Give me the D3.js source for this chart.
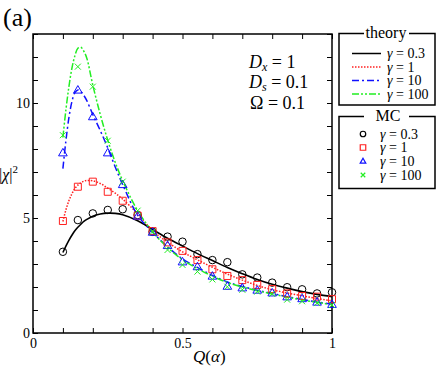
<!DOCTYPE html>
<meta charset="utf-8">
<style>
  body { margin: 0; background: #fff; }
  svg text { font-family: "Liberation Serif", "Times New Roman", Times, "DejaVu Serif", serif; }
</style>
<script src="https://d3js.org/d3.v7.min.js"></script>
<div id="chart"></div>
<script>
// theory curves
var qTheory = [0.1, 0.11, 0.12, 0.13, 0.14, 0.15, 0.16, 0.17, 0.18, 0.2, 0.225, 0.25, 0.275, 0.3,
               0.35, 0.4, 0.45, 0.5, 0.55, 0.6, 0.65, 0.7, 0.75, 0.8, 0.85, 0.9, 0.95, 1.0];
var th03  = [3.5, 3.78, 4.03, 4.25, 4.45, 4.6, 4.73, 4.85, 4.94, 5.08, 5.17, 5.21, 5.2, 5.14,
             4.88, 4.5, 4.12, 3.78, 3.45, 3.15, 2.85, 2.58, 2.33, 2.12, 1.95, 1.8, 1.68, 1.58];
var th1   = [4.85, 5.35, 5.75, 6.05, 6.28, 6.43, 6.53, 6.6, 6.63, 6.62, 6.5, 6.3, 6.08, 5.82,
             5.18, 4.45, 3.95, 3.53, 3.18, 2.86, 2.56, 2.3, 2.07, 1.88, 1.74, 1.62, 1.5, 1.4];
var th10  = [7.15, 8.35, 9.35, 10.05, 10.45, 10.57, 10.5, 10.33, 10.1, 9.5, 8.8, 8.05, 7.22, 6.45,
             5.12, 4.38, 3.75, 3.22, 2.85, 2.5, 2.22, 2.02, 1.86, 1.72, 1.58, 1.46, 1.35, 1.25];
var th100 = [8.5, 9.7, 10.7, 11.5, 12.05, 12.38, 12.42, 12.25, 11.95, 10.78, 9.5, 8.38, 7.42, 6.62,
             5.32, 4.4, 3.72, 3.18, 2.8, 2.47, 2.2, 2.0, 1.84, 1.7, 1.56, 1.44, 1.33, 1.23];

// Monte Carlo points
var qMC   = [0.1, 0.15, 0.2, 0.25, 0.3, 0.35, 0.4, 0.45, 0.5, 0.55, 0.6, 0.65, 0.7, 0.75, 0.8, 0.85, 0.9, 0.95, 1.0];
var mc03  = [3.53, 4.91, 5.2, 5.35, 5.38, 5.13, 4.4, 4.19, 3.97, 3.43, 3.17, 3.08, 2.55, 2.41, 2.19, 1.99, 1.9, 1.72, 1.77];
var mc1   = [4.87, 6.36, 6.58, 6.14, 5.75, 5.1, 4.43, 3.94, 3.57, 3.17, 2.77, 2.48, 2.3, 2.09, 1.91, 1.72, 1.61, 1.58, 1.47];
var mc10  = [7.81, 10.54, 9.38, 7.81, 6.43, 5.06, 4.36, 3.78, 3.07, 2.86, 2.45, 2.01, 1.94, 1.84, 1.72, 1.55, 1.47, 1.32, 1.22];
var mc100 = [8.6, 11.58, 10.71, 8.36, 6.58, 5.32, 4.4, 3.61, 2.96, 2.67, 2.33, 2.01, 1.88, 1.8, 1.7, 1.45, 1.38, 1.3, 1.22];

var gammaLabels = ["0.3", "1", "10", "100"];
var xTickLabels = ["0", "0.5", "1"];
var yTickLabels = ["0", "5", "10"];

var colors = ["#000000", "#ff2020", "#1010ff", "#22ee22"];
var dashes = [null, "1.5,1.5", "7,3,2,3", "7,2,2,2,2,2"];
var serif = '"Liberation Serif", "Times New Roman", Times, "DejaVu Serif", serif';

var width = 436, height = 368;
var svg = d3.select("#chart").append("svg")
    .attr("width", width)
    .attr("height", height)
    .attr("font-family", serif);

var x = d3.scaleLinear().domain([0, 1]).range([33, 332]);
var y = d3.scaleLinear().domain([0, 13]).range([333, 34]);

var xticks = d3.range(0, 11).map(function(i) { return i / 10; });
var yticks = d3.range(0, 14);

function xfmt(d) {
  var s = String(+d.toFixed(2));
  return xTickLabels.indexOf(s) >= 0 ? s : "";
}
function yfmt(d) {
  var s = String(d);
  return yTickLabels.indexOf(s) >= 0 ? s : "";
}

// axes, ticks pointing inward
svg.append("g").attr("transform", "translate(0,333)")
  .call(d3.axisBottom(x).tickValues(xticks).tickSize(-5).tickPadding(5).tickFormat(xfmt));
svg.append("g").attr("transform", "translate(0,34)")
  .call(d3.axisTop(x).tickValues(xticks).tickSize(-5).tickFormat(""));
svg.append("g").attr("transform", "translate(33,0)")
  .call(d3.axisLeft(y).tickValues(yticks).tickSize(-5).tickPadding(3).tickFormat(yfmt));
svg.append("g").attr("transform", "translate(332,0)")
  .call(d3.axisRight(y).tickValues(yticks).tickSize(-5).tickFormat(""));

svg.selectAll("g").attr("font-family", serif);
svg.selectAll(".domain").remove();
svg.selectAll(".tick line").attr("stroke", "#000").attr("stroke-width", 1);
svg.selectAll(".tick text")
  .attr("fill", "#000")
  .attr("font-size", 14);

// frame
svg.append("rect")
  .attr("x", x(0)).attr("y", y(13))
  .attr("width", x(1) - x(0)).attr("height", y(0) - y(13))
  .attr("fill", "none").attr("stroke", "#000").attr("stroke-width", 1.5);

// theory curves
var theory = [th03, th1, th10, th100];
var line = d3.line()
  .x(function(d) { return x(d[0]); })
  .y(function(d) { return y(d[1]); })
  .curve(d3.curveCatmullRom.alpha(0.5));

theory.forEach(function(vals, i) {
  svg.append("path")
    .datum(qTheory.map(function(q, j) { return [q, vals[j]]; }))
    .attr("d", line)
    .attr("fill", "none")
    .attr("stroke", colors[i])
    .attr("stroke-width", i == 0 ? 1.6 : 1.5)
    .attr("stroke-dasharray", dashes[i]);
});

// MC markers
function marker(kind, s) {
  if (kind == 0) return d3.symbol(d3.symbolCircle, Math.PI * s * s * 0.25)();
  if (kind == 1) return d3.symbol(d3.symbolSquare, s * s)();
  if (kind == 2) return d3.symbol(d3.symbolTriangle, s * s * 0.45)();
  var h = s / 2;
  return "M" + (-h) + "," + (-h) + "L" + h + "," + h + "M" + (-h) + "," + h + "L" + h + "," + (-h);
}
var mcSeries = [mc03, mc1, mc10, mc100];
var mcSize = [7.5, 7, 8.5, 6];

mcSeries.forEach(function(vals, i) {
  svg.append("g").selectAll("path")
    .data(qMC.map(function(q, j) { return [q, vals[j]]; }))
    .join("path")
      .attr("transform", function(d) { return "translate(" + x(d[0]) + "," + y(d[1]) + ")"; })
      .attr("d", marker(i, mcSize[i]))
      .attr("fill", "none")
      .attr("stroke", colors[i])
      .attr("stroke-width", 1);
});

// axis labels
svg.append("text")
  .attr("x", 193).attr("y", 362)
  .attr("font-size", 17)
  .html('<tspan font-style="italic">Q</tspan>(<tspan font-style="italic">α</tspan>)');

svg.append("text")
  .attr("x", -1).attr("y", 180)
  .attr("font-size", 16)
  .html('|<tspan font-style="italic">χ</tspan>|<tspan dy="-7" font-size="11">2</tspan>');

svg.append("text")
  .attr("x", 3).attr("y", 26)
  .attr("font-size", 26)
  .text("(a)");

// parameter annotation
var params = [
  ['<tspan font-style="italic">D</tspan><tspan font-style="italic" font-size="12" dy="3">x</tspan><tspan dy="-3"> = 1</tspan>', 249, 68],
  ['<tspan font-style="italic">D</tspan><tspan font-style="italic" font-size="12" dy="3">s</tspan><tspan dy="-3"> = 0.1</tspan>', 249, 88],
  ['Ω = 0.1', 250, 109]
];
params.forEach(function(p) {
  svg.append("text")
    .attr("x", p[1]).attr("y", p[2])
    .attr("font-size", 18)
    .attr("xml:space", "preserve")
    .html(p[0]);
});

// legend boxes
function legendBox(title, top, bottom, tx, ty) {
  svg.append("rect")
    .attr("x", 339).attr("y", top)
    .attr("width", 96).attr("height", bottom - top)
    .attr("fill", "#fff").attr("stroke", "#000").attr("stroke-width", 1.5);
  svg.append("rect")
    .attr("x", 364).attr("y", top - 2)
    .attr("width", 45).attr("height", 4)
    .attr("fill", "#fff");
  svg.append("text")
    .attr("x", tx).attr("y", ty)
    .attr("text-anchor", "middle")
    .attr("font-size", 16)
    .text(title);
}
legendBox("theory", 33.5, 105, 386, 38);
legendBox("MC", 116.5, 188.5, 388, 121);

var thRows = [53.5, 67, 80.5, 94];
var mcRows = [134, 147.5, 161.5, 175];

gammaLabels.forEach(function(g, i) {
  svg.append("line")
    .attr("x1", 352).attr("x2", 381)
    .attr("y1", thRows[i]).attr("y2", thRows[i])
    .attr("stroke", colors[i])
    .attr("stroke-width", 1.5)
    .attr("stroke-dasharray", dashes[i]);
  svg.append("text")
    .attr("x", 387).attr("y", thRows[i] + 4.5)
    .attr("font-size", 14)
    .html('<tspan font-style="italic">γ</tspan> = ' + g);

  svg.append("path")
    .attr("transform", "translate(363," + mcRows[i] + ")")
    .attr("d", marker(i, i == 3 ? 4.5 : 5.5))
    .attr("fill", "none")
    .attr("stroke", colors[i])
    .attr("stroke-width", 1.2);
  svg.append("text")
    .attr("x", 380).attr("y", mcRows[i] + 4.5)
    .attr("font-size", 14)
    .html('<tspan font-style="italic">γ</tspan> = ' + g);
});
</script>
